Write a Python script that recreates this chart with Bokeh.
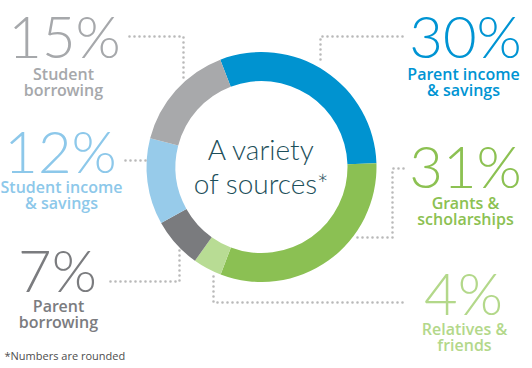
import numpy as np
from bokeh.plotting import figure
from bokeh.models import Range1d, ColumnDataSource
from bokeh.core.properties import value
from bokeh.embed import file_html
from bokeh.resources import INLINE

# ---- data ----
categories = ["Parent income & savings", "Grants & scholarships", "Relatives & friends",
              "Parent borrowing", "Student income & savings", "Student borrowing"]
shares = [30, 31, 4, 7, 12, 15]
pct_labels = ["30%", "31%", "4%", "7%", "12%", "15%"]
label_lines = [["Parent income", "& savings"], ["Grants &", "scholarships"], ["Relatives &", "friends"],
               ["Parent", "borrowing"], ["Student income", "& savings"], ["Student", "borrowing"]]
colors = ["#0093d0", "#8bc053", "#b8dc94", "#7a7b7e", "#97cbea", "#a8a9ab"]
text_colors = ["#0094d3", "#8cc152", "#b3d88a", "#7b7c7f", "#8dc8ea", "#a6a8ab"]

W, H = 532, 368

def Y(v):
    return H - v

def B(v, fs):
    # baseline position (image px) -> data y, compensating glyph text offset
    return H - (v - 0.38 * fs)

# ---- layout ----
cx, cy = 261, Y(166.5)
r_in, r_out = 86, 115
start_cw = -21.0  # degrees clockwise from 12 o'clock

p = figure(width=W, height=H, output_backend="svg", toolbar_location=None,
           x_range=Range1d(0, W), y_range=Range1d(0, H), min_border=0)
p.axis.visible = False
p.grid.visible = False
p.outline_line_color = None
p.background_fill_color = "white"
p.border_fill_color = "white"

total = sum(shares)
cum = np.cumsum([0] + shares)
theta1 = start_cw + 360.0 * cum[:-1] / total
theta2 = start_cw + 360.0 * cum[1:] / total
src = ColumnDataSource(dict(
    start=np.radians(90 - theta2), end=np.radians(90 - theta1), color=colors, name=categories))
p.annular_wedge(x=cx, y=cy, inner_radius=r_in, outer_radius=r_out, start_angle="start",
                end_angle="end", color="color", line_color=None, source=src)

# ---- dotted leaders ----
leaders = [
    [(402, 36), (320, 36), (320, 64)],            # 30%
    [(403, 168), (392, 168), (392, 237), (353, 237)],  # 31%
    [(402, 302), (213, 302), (213, 273)],         # 4%
    [(110, 281), (179, 281), (179, 247)],         # 7%
    [(125, 160), (146, 160)],                     # 12%
    [(129, 36), (183, 36), (183, 80)],            # 15%
]
for pts in leaders:
    xs = [a for a, b in pts]
    ys = [Y(b) for a, b in pts]
    p.line(xs, ys, line_color="#b9b9b9", line_width=2.6, line_dash="0 5", line_cap="round")

# ---- labels ----
BIG, LAB = 58, 16
big_pos = [(465, 57), (465, 187), (463, 314), (57, 291), (60, 172), (64, 57)]
lab_pos = [(463, [80, 96]), (465, [209, 225]), (464, [335, 351]), (58, [312, 328]),
           (61, [193, 209]), (63, [80, 96])]
for i in range(6):
    bx, by = big_pos[i]
    p.text(x=[bx], y=[B(by, BIG)], text=[pct_labels[i]], text_align="center",
           text_baseline="alphabetic", text_font=value("Lato Light"), text_font_size=f"{BIG}px",
           text_color=text_colors[i])
    lx, lys = lab_pos[i]
    p.text(x=[lx] * 2, y=[B(v, LAB) for v in lys], text=label_lines[i], text_align="center",
           text_baseline="alphabetic", text_font=value("Open Sans SemiBold"),
           text_font_size=f"{LAB}px", text_color=text_colors[i])

CEN = 28
p.text(x=[261, 261], y=[B(159, CEN), B(193, CEN)], text=["A variety", "of sources*"],
       text_align="center", text_baseline="alphabetic", text_font=value("Lato Light"),
       text_font_size=f"{CEN}px", text_color="#1d4f5a")
FN = 11
p.text(x=[4], y=[B(359, FN)], text=["*Numbers are rounded"], text_align="left",
       text_baseline="alphabetic", text_font=value("Open Sans"), text_font_size=f"{FN}px",
       text_color="#4d4d4d")

open("out.html", "w").write(file_html(p, INLINE))
